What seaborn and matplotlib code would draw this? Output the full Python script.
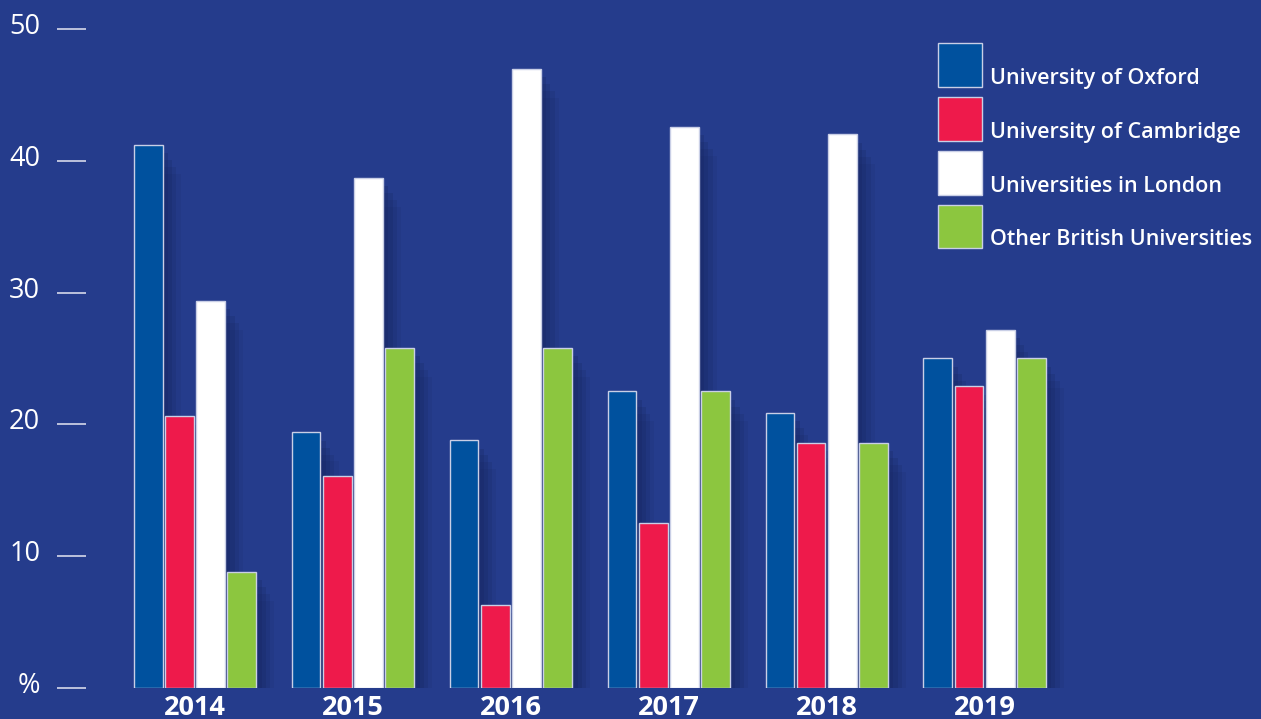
import pandas as pd
import seaborn as sns
import matplotlib.pyplot as plt
from matplotlib import patheffects as pe
from matplotlib.transforms import ScaledTranslation

years = ["2014", "2015", "2016", "2017", "2018", "2019"]
oxford = [41.2, 19.4, 18.8, 22.5, 20.9, 25.0]
cambridge = [20.6, 16.1, 6.3, 12.5, 18.6, 22.9]
london = [29.4, 38.7, 47.0, 42.6, 42.0, 27.2]
other = [8.8, 25.8, 25.8, 22.5, 18.6, 25.0]
series_names = ["University of Oxford", "University of Cambridge",
                "Universities in London", "Other British Universities"]
y_ticks = [0, 10, 20, 30, 40, 50]
y_ticklabels = ["%", "10", "20", "30", "40", "50"]

bg = "#253c8c"
colors = ["#00519e", "#ee1a4b", "#ffffff", "#8cc63f"]

rows = []
for name, vals in zip(series_names, [oxford, cambridge, london, other]):
    for yr, v in zip(years, vals):
        rows.append({"year": yr, "uni": name, "value": v})
df = pd.DataFrame(rows)

sns.set_style("white")
plt.rcParams["font.family"] = ["Open Sans", "DejaVu Sans"]

fig = plt.figure(figsize=(12.61, 7.19), dpi=100, facecolor=bg)
ax = fig.add_axes([86 / 1261, 31 / 719, 1 - 86 / 1261, 688 / 719])
ax.set_facecolor(bg)

sns.barplot(data=df, x="year", y="value", hue="uni", hue_order=series_names,
            palette=colors, width=0.79, gap=0.08, edgecolor="#c9cfe6",
            linewidth=1, saturation=1, ax=ax, legend=True)

# soft dark shadow to the lower right of each bar
shadow = [pe.SimplePatchShadow(offset=(4, -6), shadow_rgbFace="#16265e", alpha=0.25),
          pe.SimplePatchShadow(offset=(7, -11), shadow_rgbFace="#16265e", alpha=0.22),
          pe.SimplePatchShadow(offset=(10, -16), shadow_rgbFace="#16265e", alpha=0.18),
          pe.SimplePatchShadow(offset=(13, -21), shadow_rgbFace="#16265e", alpha=0.12),
          pe.Normal()]
for bar in ax.patches:
    bar.set_path_effects(shadow)

ax.set_xlim(-0.69, 6.75)
ax.set_ylim(0, 52.2)
for s in ax.spines.values():
    s.set_visible(False)

ax.set_yticks(y_ticks)
ax.set_yticklabels(y_ticklabels)
ax.tick_params(axis="y", direction="out", length=21, width=1.3, pad=12,
               color="#c8cde3", labelcolor="white", labelsize=19.5, left=True)
ax.tick_params(axis="x", length=0, pad=5, labelcolor="white", labelsize=19.5)
for lab in ax.get_xticklabels():
    lab.set_fontweight("bold")
up = ScaledTranslation(0, 4 / 72, fig.dpi_scale_trans)
for lab in ax.get_yticklabels():
    lab.set_transform(lab.get_transform() + up)
ax.set_xlabel("")
ax.set_ylabel("")

leg = ax.legend(loc="upper left", bbox_to_anchor=(938 / 1261, 1 - 43 / 719),
                bbox_transform=fig.transFigure, frameon=False, fontsize=15.5,
                handlelength=2.05, handleheight=2.75, handletextpad=0.35,
                labelspacing=0.47, borderpad=0, borderaxespad=0)
down = ScaledTranslation(0, -9 / 72, fig.dpi_scale_trans)
for t in leg.get_texts():
    t.set_color("white")
    t.set_fontweight("semibold")
    t.set_transform(t.get_transform() + down)
for h in leg.legend_handles:
    h.set_edgecolor("#c9cfe6")
    h.set_linewidth(1)
    h.set_path_effects([])

fig.savefig("out.png", dpi=100, facecolor=bg)
